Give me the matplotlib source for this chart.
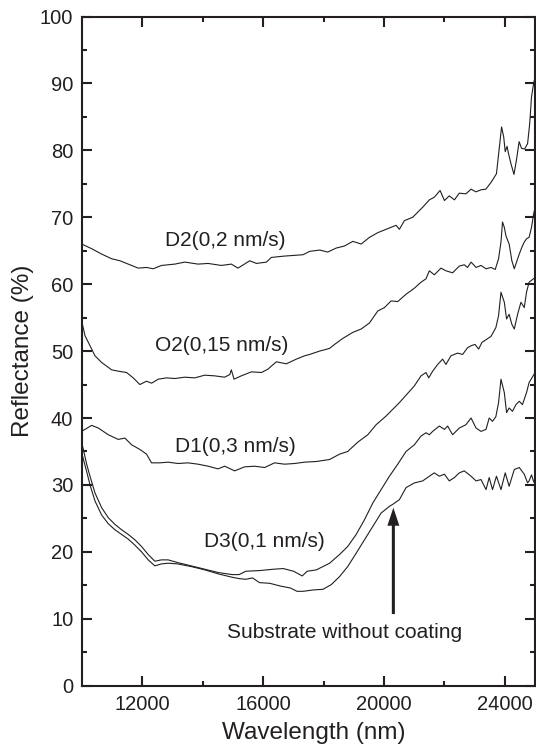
import matplotlib
matplotlib.use("Agg")
import matplotlib.pyplot as plt
from matplotlib.ticker import MultipleLocator, FixedLocator

plt.rcParams['font.family'] = ['Liberation Sans', 'DejaVu Sans']

ink = '#231f20'

# Reflectance spectra (wavelength in nm, reflectance in %)
d2_x = [10000, 10330, 10660, 10990, 11265, 11540, 11870, 12145, 12365, 12640, 13080, 13410,
        13850, 14180, 14620, 14950, 15170, 15560, 15780, 16110, 16275, 16710, 17320, 17540,
        17870, 18140, 18420, 18690, 18970, 19245, 19520, 19795, 20070, 20400, 20510, 20675,
        20950, 21280, 21500, 21665, 21855, 22000, 22160, 22330, 22490, 22710, 22880, 23040,
        23210, 23370, 23540, 23720, 23810, 23890, 23960, 24010, 24070, 24120, 24200, 24300,
        24380, 24470, 24550, 24650, 24750, 24820, 24880, 24950, 25000]
d2_y = [66.0, 65.3, 64.5, 63.8, 63.5, 63.0, 62.4, 62.5, 62.3, 62.8, 63.0, 63.3,
        63.0, 63.1, 62.8, 63.0, 62.4, 63.5, 63.1, 63.3, 64.0, 64.2, 64.4, 64.9,
        65.1, 64.8, 65.4, 65.7, 66.4, 66.0, 67.0, 67.7, 68.2, 68.8, 68.2, 69.5,
        70.0, 71.5, 72.6, 73.0, 74.0, 72.5, 73.2, 72.6, 73.6, 73.5, 74.2, 73.8,
        74.1, 74.2, 75.2, 76.5, 80.2, 83.5, 82.0, 79.8, 80.6, 79.5, 78.0, 76.4,
        78.5, 81.3, 80.3, 80.2, 81.0, 84.0, 88.0, 90.0, 91.0]

o2_x = [10000, 10110, 10275, 10440, 10660, 10990, 11210, 11485, 11705, 11925, 12145, 12310,
        12530, 12805, 13080, 13410, 13740, 14070, 14400, 14730, 14900, 14950, 15040, 15280,
        15615, 15945, 16160, 16440, 16770, 17100, 17375, 17540, 17870, 18200, 18365, 18640,
        18970, 19245, 19520, 19795, 20015, 20235, 20455, 20730, 21005, 21225, 21390, 21500,
        21665, 21885, 22050, 22270, 22490, 22655, 22765, 22880, 23045, 23210, 23375, 23540,
        23680, 23790, 23870, 23920, 23980, 24035, 24140, 24230, 24310, 24400, 24475, 24560,
        24640, 24720, 24800, 24880, 24950, 25000]
o2_y = [54.5, 52.3, 50.8, 49.3, 48.3, 47.2, 47.0, 46.8, 46.0, 45.0, 45.5, 45.2,
        45.8, 46.0, 45.9, 46.1, 46.0, 46.4, 46.3, 46.1, 46.5, 47.2, 45.8, 46.3,
        46.9, 46.8, 47.3, 48.4, 48.1, 48.8, 49.3, 49.5, 50.0, 50.4, 51.0, 51.9,
        52.8, 53.3, 54.2, 56.0, 56.5, 57.5, 57.4, 58.5, 59.4, 60.3, 60.8, 62.0,
        61.4, 62.4, 62.0, 61.7, 62.7, 62.9, 62.5, 63.3, 62.5, 62.8, 62.3, 62.5,
        62.2, 63.8, 66.3, 69.3, 68.5, 67.2, 66.0, 63.5, 62.3, 63.5, 64.5, 65.5,
        66.3, 66.8, 67.0, 68.5, 70.5, 71.5]

d1_x = [10000, 10330, 10550, 10880, 11210, 11430, 11650, 11925, 12145, 12310, 12585, 12860,
        13190, 13520, 13850, 14180, 14510, 14730, 15060, 15390, 15720, 16050, 16380, 16710,
        17040, 17370, 17760, 18200, 18530, 18800, 19135, 19465, 19740, 20070, 20510, 21005,
        21225, 21390, 21480, 21610, 21775, 21940, 22050, 22215, 22435, 22600, 22765, 22880,
        23010, 23130, 23240, 23375, 23540, 23700, 23790, 23870, 23980, 24055, 24140, 24230,
        24310, 24420, 24530, 24640, 24715, 24800, 25000]
d1_y = [38.0, 38.9, 38.5, 37.5, 36.8, 37.0, 36.0, 35.3, 34.6, 33.3, 33.3, 33.4,
        33.2, 33.3, 33.1, 32.8, 32.4, 32.8, 32.1, 32.7, 32.8, 32.6, 33.3, 33.1,
        33.2, 33.4, 33.5, 33.8, 34.6, 35.0, 36.4, 37.5, 39.0, 40.3, 42.3, 44.8,
        46.3, 46.8, 46.0, 47.0, 48.0, 48.8, 48.0, 49.3, 49.7, 49.5, 50.5, 50.8,
        51.0, 50.3, 51.3, 51.7, 52.2, 53.5, 55.3, 58.8, 57.3, 54.8, 55.5, 54.0,
        53.3, 55.5, 57.3, 56.5, 58.8, 60.3, 61.0]

d3_x = [10000, 10055, 10165, 10275, 10440, 10660, 10880, 11100, 11320, 11540, 11760, 11980,
        12200, 12420, 12640, 12860, 13170, 13625, 14075, 14525, 14980, 15205, 15430, 15880,
        16335, 16670, 17010, 17295, 17460, 17760, 18200, 18530, 18800, 19080, 19355, 19630,
        19905, 20180, 20455, 20730, 21005, 21225, 21390, 21500, 21610, 21830, 22000, 22105,
        22270, 22490, 22710, 22880, 23045, 23210, 23375, 23480, 23590, 23700, 23790, 23870,
        23980, 24055, 24140, 24250, 24365, 24475, 24580, 24715, 24800, 25000]
d3_y = [36.3, 35.3, 33.1, 31.3, 28.8, 26.6, 25.1, 24.1, 23.3, 22.6, 21.8, 20.8,
        19.6, 18.6, 18.8, 18.8, 18.4, 17.9, 17.4, 16.9, 16.6, 16.6, 17.1, 17.2,
        17.4, 17.5, 17.1, 16.4, 17.1, 17.3, 18.3, 19.6, 20.8, 22.6, 24.8, 27.3,
        29.3, 31.3, 33.1, 35.0, 36.0, 37.3, 37.8, 37.5, 38.0, 38.8, 38.3, 38.8,
        37.5, 38.5, 39.0, 40.0, 38.5, 38.0, 38.3, 40.0, 39.5, 40.2, 42.3, 45.8,
        43.8, 40.8, 41.5, 41.0, 42.0, 42.5, 42.0, 43.8, 45.3, 46.8]

sub_x = [10000, 10165, 10275, 10440, 10660, 10880, 11100, 11320, 11540, 11760, 11980, 12200,
         12420, 12640, 12860, 13170, 13625, 14075, 14525, 14980, 15205, 15430, 15655, 15880,
         16220, 16560, 16900, 17125, 17320, 17650, 17980, 18255, 18530, 18800, 19080, 19355,
         19630, 19905, 20180, 20290, 20510, 20730, 21005, 21280, 21500, 21665, 21830, 22000,
         22160, 22330, 22490, 22655, 22880, 23045, 23210, 23375, 23480, 23590, 23720, 23870,
         24010, 24140, 24310, 24475, 24640, 24750, 24800, 24880, 24950, 25000]
sub_y = [34.8, 32.0, 30.0, 27.6, 25.5, 24.2, 23.3, 22.6, 21.9, 21.0, 20.0, 18.8,
         17.9, 18.2, 18.3, 18.2, 17.8, 17.3, 16.7, 16.2, 16.0, 15.9, 16.1, 15.4,
         15.3, 14.9, 14.6, 14.1, 14.1, 14.3, 14.4, 15.1, 16.3, 17.8, 19.8, 21.8,
         23.8, 25.8, 26.8, 27.1, 27.8, 29.6, 30.3, 30.6, 31.3, 31.8, 31.3, 31.6,
         30.6, 31.1, 31.8, 32.1, 31.3, 30.6, 30.8, 29.3, 31.1, 29.3, 31.3, 29.3,
         31.8, 29.8, 32.3, 32.6, 31.6, 30.3, 30.6, 31.5, 30.5, 30.2]

series = [(d2_x, d2_y), (o2_x, o2_y), (d1_x, d1_y), (d3_x, d3_y), (sub_x, sub_y)]

labels = ['D2(0,2 nm/s)', 'O2(0,15 nm/s)', 'D1(0,3 nm/s)', 'D3(0,1 nm/s)']
label_x = [14765, 14633, 15100, 16052]
label_y = [66.5, 50.9, 35.7, 21.6]

arrow_x = 20310
arrow_tail = 10.7
arrow_tip = 26.6
arrow_text = 'Substrate without coating'
arrow_text_x = 18705
arrow_text_y = 7.9

x_major = [12000, 16000, 20000, 24000]
x_minor = [14000, 18000, 22000]

fig = plt.figure(figsize=(5.36, 7.44), dpi=100)
ax = fig.add_axes([0.1524, 0.0784, 0.846, 0.8994])

for xs, ys in series:
    ax.plot(xs, ys, color=ink, lw=0.8)

for t, x, y in zip(labels, label_x, label_y):
    ax.text(x, y, t, ha='center', va='center', fontsize=15, color=ink)

ax.annotate('', xy=(arrow_x, arrow_tip), xytext=(arrow_x, arrow_tail),
            arrowprops=dict(width=2.2, headwidth=8.6, headlength=13, shrink=0,
                            facecolor=ink, edgecolor='none'))
ax.text(arrow_text_x, arrow_text_y, arrow_text, ha='center', va='center',
        fontsize=15, color=ink)

ax.set_xlim(10000, 25000)
ax.set_ylim(0, 100)
ax.xaxis.set_major_locator(FixedLocator(x_major))
ax.xaxis.set_minor_locator(FixedLocator(x_minor))
ax.yaxis.set_major_locator(MultipleLocator(10))
ax.yaxis.set_minor_locator(MultipleLocator(5))

ax.tick_params(which='both', direction='in', top=True, right=True,
               width=1.5, color=ink, labelcolor=ink, labelsize=14.5)
ax.tick_params(which='major', length=7)
ax.tick_params(which='minor', length=3.3)
ax.tick_params(axis='x', pad=6.5)
ax.tick_params(axis='y', pad=6)

for s in ax.spines.values():
    s.set_linewidth(1.5)
    s.set_color(ink)

ax.set_xlabel('Wavelength (nm)', fontsize=17.5, color=ink)
ax.set_ylabel('Reflectance (%)', fontsize=17.5, color=ink)
ax.xaxis.set_label_coords(0.512, -0.054)
ax.yaxis.set_label_coords(-0.105, 0.5)

fig.savefig('out.png', dpi=100)
